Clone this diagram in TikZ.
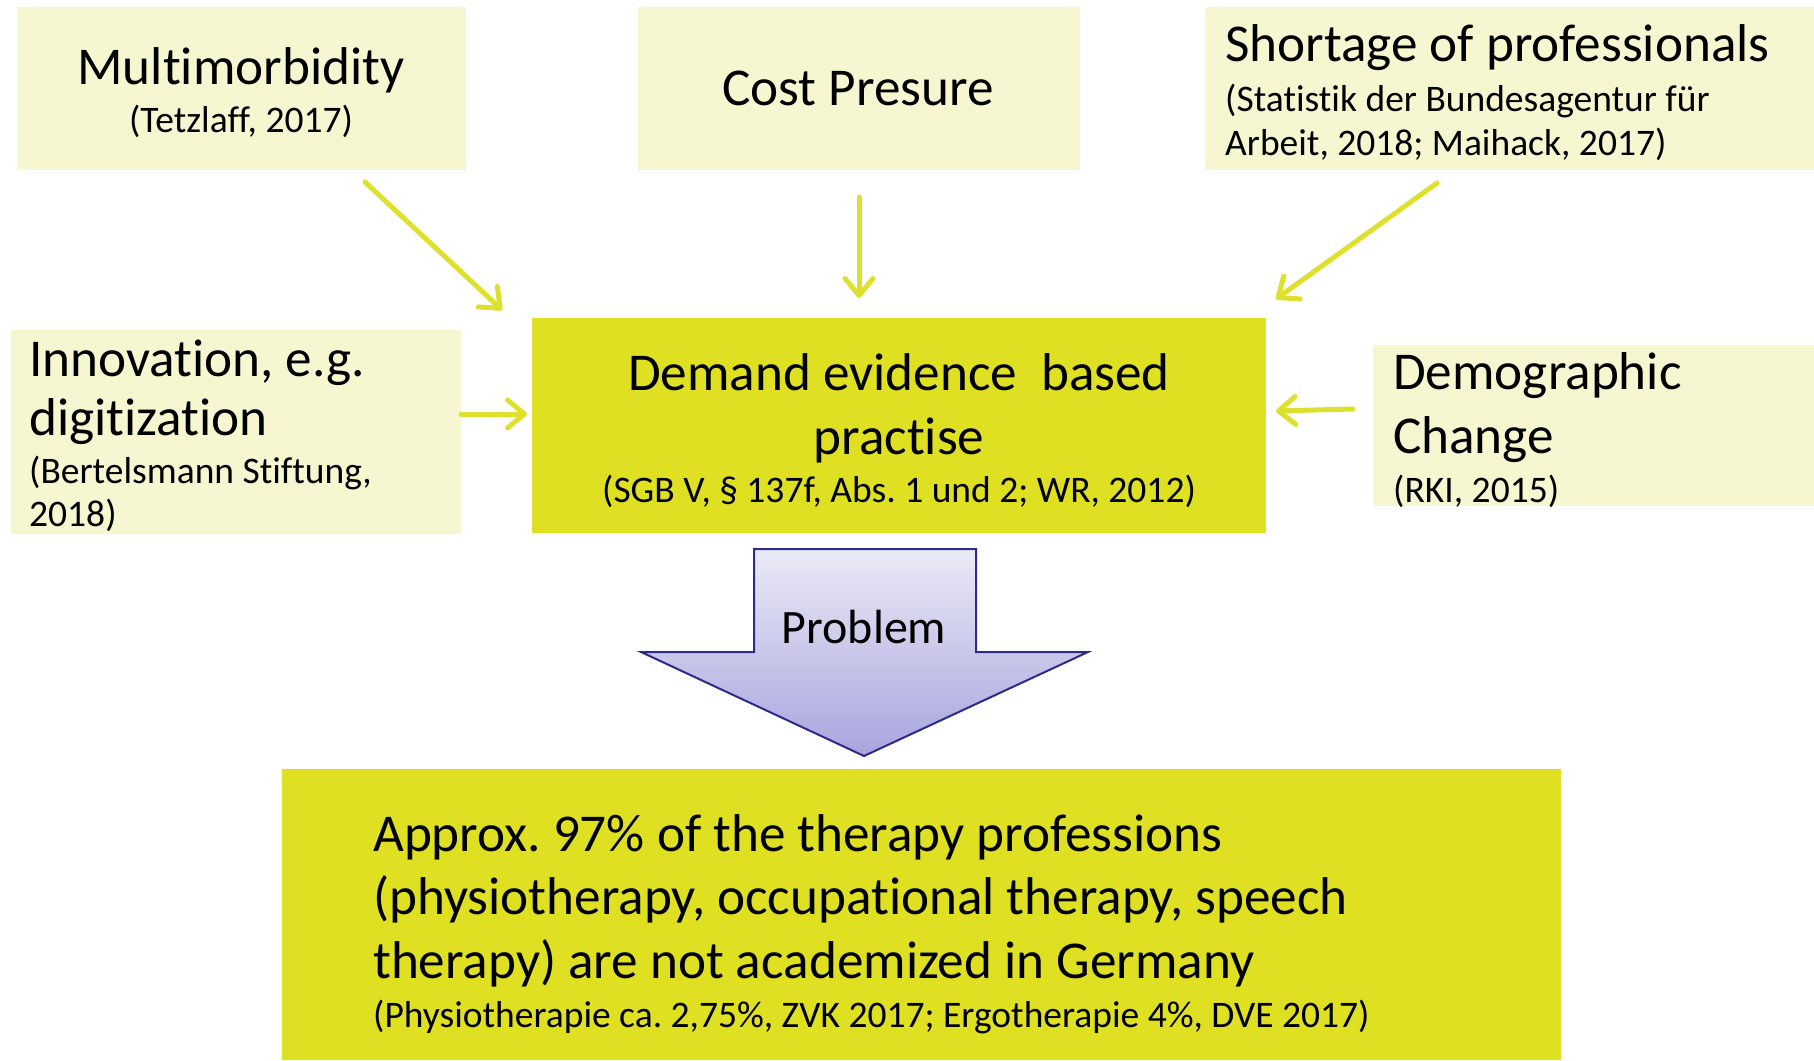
\documentclass[tikz,border=0pt]{standalone}
\usepackage{fontspec}
\setmainfont{Carlito}[RawFeature={-liga}]
\usetikzlibrary{arrows.meta}
\definecolor{pale}{RGB}{246,247,208}
\definecolor{lime}{RGB}{222,224,33}
\definecolor{arrowc}{RGB}{221,224,44}
\definecolor{pbord}{RGB}{46,42,140}
\definecolor{ptop}{RGB}{234,234,246}
\definecolor{pbot}{RGB}{168,165,222}
\frenchspacing
\tikzset{
  box/.style={draw=none, inner sep=0pt, outer sep=0pt, anchor=north west},
  palebox/.style={box, fill=pale},
  limebox/.style={box, fill=lime},
  big/.style={inner sep=0pt, font=\fontsize{53.2}{64}\selectfont},
  small/.style={inner sep=0pt, font=\fontsize{37.5}{44}\selectfont},
  conn/.style={draw=arrowc, line width=5pt, line cap=round, line join=round,
    -{Straight Barb[length=17pt,width=28pt,line width=5pt,round]}},
}
\begin{document}
\begin{tikzpicture}[x=1pt,y=1pt]
\useasboundingbox (0,0) rectangle (1814,-1060);
% boxes
\node[palebox, minimum width=449pt, minimum height=163pt] (mm) at (17,-7) {};
\node[palebox, minimum width=442pt, minimum height=163pt] (cp) at (638,-7) {};
\node[palebox, minimum width=609pt, minimum height=163pt] (sh) at (1205,-7) {};
\node[palebox, minimum width=450pt, minimum height=204pt] (in) at (11,-330) {};
\node[limebox, minimum width=734pt, minimum height=215pt] (ce) at (532,-318) {};
\node[palebox, minimum width=441pt, minimum height=161pt] (de) at (1373,-345) {};
\node[limebox, minimum width=1279pt, minimum height=291pt] (bo) at (282,-769) {};
% texts
\node[big, anchor=base] (t1) at (241,-84) {Multimorbidity};
\node[small, anchor=base] (t1c) at (241,-132) {(Tetzlaff, 2017)};
\node[big, anchor=base] (t2) at (858,-105) {Cost Presure};
\node[big, anchor=base west] (t3) at (1225,-61) {Shortage of professionals};
\node[small, anchor=base west] (t3c) at (1225,-111) {(Statistik der Bundesagentur für};
\node[small, anchor=base west] (t3d) at (1225,-155) {Arbeit, 2018; Maihack, 2017)};
\node[big, anchor=base west] (t4) at (29,-376) {Innovation, e.g.};
\node[big, anchor=base west] (t4b) at (29,-435) {digitization};
\node[small, anchor=base west] (t4c) at (29,-483) {(Bertelsmann Stiftung,};
\node[small, anchor=base west] (t4d) at (29,-526) {2018)};
\node[big, anchor=base] (t5) at (899,-390) {Demand evidence\ \ based};
\node[big, anchor=base] (t5b) at (899,-454) {practise};
\node[small, anchor=base] (t5c) at (899,-502) {(SGB V, § 137f, Abs. 1 und 2; WR, 2012)};
\node[big, anchor=base west] (t6) at (1393,-389) {Demographic};
\node[big, anchor=base west] (t6b) at (1393,-453) {Change};
\node[small, anchor=base west] (t6c) at (1393,-502) {(RKI, 2015)};
\node[big, anchor=base west] (t7) at (373,-851) {Approx. 97\% of the therapy professions};
\node[big, anchor=base west] (t7b) at (373,-914) {(physiotherapy, occupational therapy, speech};
\node[big, anchor=base west] (t7c) at (373,-978) {therapy) are not academized in Germany};
\node[small, anchor=base west] (t7d) at (373,-1027) {(Physiotherapie ca. 2,75\%, ZVK 2017; Ergotherapie 4\%, DVE 2017)};
% problem arrow
\shade[top color=ptop, bottom color=pbot, draw=pbord, line width=2pt, line join=miter]
  (754,-549) -- (976,-549) -- (976,-652) -- (1088,-652) -- (864,-756) -- (641,-652) -- (754,-652) -- cycle;
\node[inner sep=0pt, anchor=base, font=\fontsize{48}{56}\selectfont] (pr) at (864,-643) {Problem};
% connectors
\coordinate (a1s) at (365,-182); \coordinate (a1e) at (502,-310);
\coordinate (a2s) at (859,-197); \coordinate (a2e) at (859,-298);
\coordinate (a3s) at (1437,-183); \coordinate (a3e) at (1276,-299);
\coordinate (a4s) at (461,-414); \coordinate (a4e) at (527,-414);
\coordinate (a5s) at (1353,-409); \coordinate (a5e) at (1276,-411);
\draw[conn] (a1s) -- (a1e);
\draw[conn] (a2s) -- (a2e);
\draw[conn] (a3s) -- (a3e);
\draw[conn] (a4s) -- (a4e);
\draw[conn] (a5s) -- (a5e);
\end{tikzpicture}
\end{document}
